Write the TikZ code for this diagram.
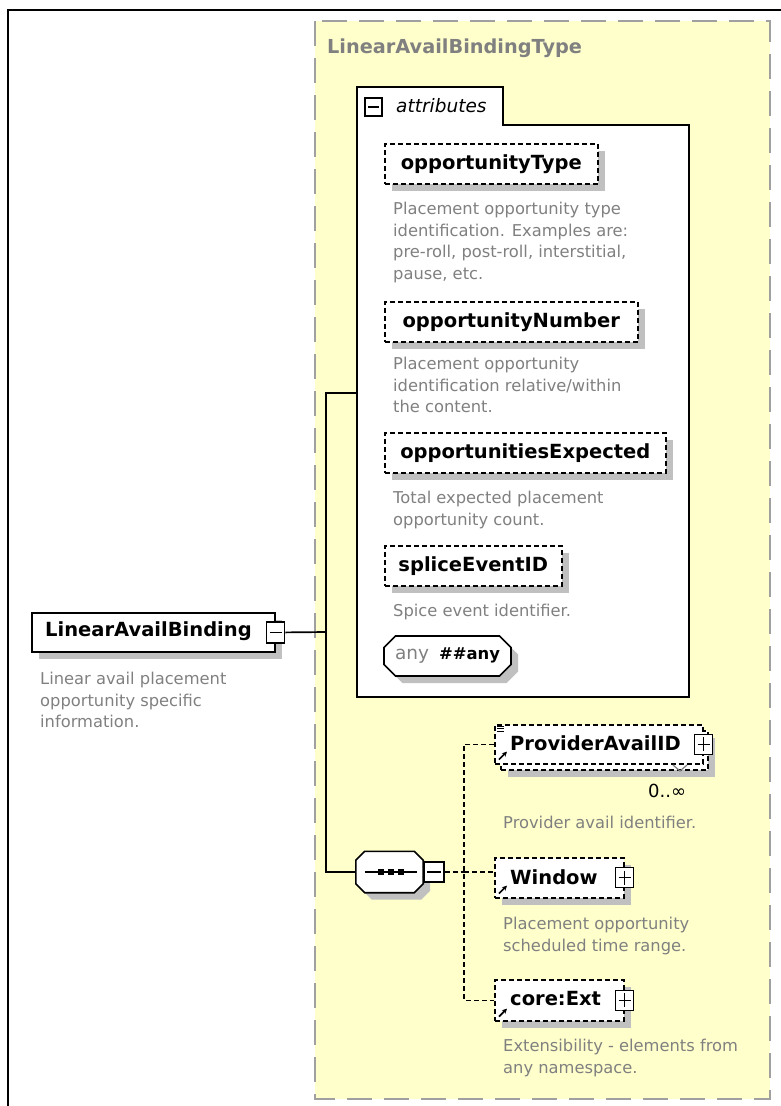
\documentclass[tikz,border=0pt]{standalone}
\usepackage{fontspec}
\setmainfont{DejaVu Sans}
\usepackage{tikz}
\usetikzlibrary{shapes.misc,shadows,arrows.meta}

\definecolor{fondo}{RGB}{255,255,204}
\definecolor{borde}{RGB}{160,160,160}
\definecolor{sombra}{RGB}{192,192,192}
\definecolor{gris}{RGB}{128,128,128}

\newcommand{\nombre}{\fontsize{19.5}{23}\selectfont\bfseries}
\newcommand{\nota}{\fontsize{16.3}{21.5}\selectfont}

\tikzset{
  sombreado/.style={general shadow={fill=sombra, shadow xshift=7pt, shadow yshift=-7pt}},
  elemsin/.style={draw, fill=white, line width=1.6pt, dash pattern=on 5pt off 3pt,
    minimum height=40pt, inner sep=0pt},
  elem/.style={elemsin, sombreado},
  octo/.style={chamfered rectangle, chamfered rectangle xsep=8pt, draw, fill=white,
    line width=1.6pt, inner sep=0pt, sombreado},
  desc/.style={anchor=north west, align=left, inner sep=0pt, text=gris, font=\nota},
  signo/.style={draw, fill=white, line width=1.3pt, minimum width=18pt, minimum height=20pt, inner sep=0pt},
  menos/.style={signo, path picture={
    \draw[line width=1.3pt] ([xshift=3pt]path picture bounding box.west) -- ([xshift=-3pt]path picture bounding box.east);}},
  mas/.style={signo, path picture={
    \draw[line width=1.3pt] ([xshift=3pt]path picture bounding box.west) -- ([xshift=-3pt]path picture bounding box.east);
    \draw[line width=1.3pt] ([yshift=-3pt]path picture bounding box.north) -- ([yshift=3pt]path picture bounding box.south);}},
  liga/.style={line width=1.7pt},
  ligap/.style={line width=1.6pt, dash pattern=on 5pt off 3pt},
}

\begin{document}
\begin{tikzpicture}[x=1pt,y=-1pt]
\useasboundingbox (0,0) rectangle (781,1106);

% Marco exterior
\draw[line width=2pt] (8,1106) -- (8,10) -- (781,10);

% Tipo complejo
\draw[borde, fill=fondo, line width=2.5pt, dash pattern=on 25pt off 12pt] (315,21) rectangle (770,1099);
\node[anchor=west, inner sep=0pt, text=gris, font=\fontsize{19.3}{23}\selectfont\bfseries] (tipo) at (327,48) {LinearAvailBindingType};

% Grupo de atributos
\draw[fill=white, line width=1.8pt] (357,697) -- (357,87) -- (503,87) -- (503,125) -- (689,125) -- (689,697) -- cycle;
\node[menos, minimum width=17pt, minimum height=18pt] (attrpm) at (373.5,107) {};
\node[anchor=west, inner sep=0pt, font=\fontsize{18.5}{22}\selectfont\itshape] (attr) at (396,106) {attributes};
\coordinate (attrin) at (357,393);

\node[elem, minimum width=213pt, anchor=north west, font=\nombre] (otype) at (384,143) {opportunityType};
\node[desc] (otypedesc) at (393,202) {Placement opportunity type\\identification. Examples are:\\pre-roll, post-roll, interstitial,\\pause, etc.};

\node[elem, minimum width=253pt, anchor=north west, font=\nombre] (onum) at (384,301) {opportunityNumber};
\node[desc] (onumdesc) at (393,357) {Placement opportunity\\identification relative/within\\the content.};

\node[elem, minimum width=281pt, anchor=north west, font=\nombre] (oexp) at (384,432) {opportunitiesExpected};
\node[desc] (oexpdesc) at (393,491) {Total expected placement\\opportunity count.};

\node[elem, minimum width=177pt, anchor=north west, font=\nombre] (splice) at (384,545) {spliceEventID};
\node[desc] (splicedesc) at (393,604) {Spice event identifier.};

\node[octo, minimum width=127pt, minimum height=40pt] (cualq) at (447.5,656)
  {\textcolor{gris}{\fontsize{18.5}{22}\selectfont any}\hspace{10pt}{\fontsize{16.4}{20}\selectfont\bfseries\#\#any}};

% Elemento global
\node[draw, fill=white, line width=1.8pt, minimum width=243pt, minimum height=39pt,
  anchor=north west, inner sep=0pt, sombreado] (lab) at (31,612) {};
\node[anchor=west, inner sep=0pt, font=\nombre] (labtxt) at (45,631) {LinearAvailBinding};
\node[menos, minimum height=21pt] (labpm) at (lab.east) {};
\node[desc] (labdesc) at (40,672) {Linear avail placement\\opportunity specific\\information.};

% Secuencia
\node[minimum width=67pt, minimum height=41pt, inner sep=0pt] (seq) at (389.5,872) {};
\draw[fill=white, line width=1.6pt, sombreado]
  ([xshift=9pt]seq.north west) -- ([xshift=-9pt]seq.north east) -- ([yshift=-9pt]seq.north east)
  -- ([yshift=9pt]seq.south east) -- ([xshift=-9pt]seq.south east) -- ([xshift=9pt]seq.south west)
  -- ([yshift=9pt]seq.south west) -- ([yshift=-9pt]seq.north west) -- cycle;
\draw[line width=1.6pt] ([xshift=9pt]seq.west) -- ([xshift=-6pt]seq.east);
\foreach \x in {381,391,401}
  \fill (\x-3,869) rectangle (\x+3,875);
\node[menos, minimum width=20pt, anchor=west] (seqpm) at (seq.east) {};

% Conexiones
\coordinate (tronco) at (326,632);
\draw[liga] (labpm.east) -- (tronco);
\draw[liga] (attrin) -| (tronco) |- (seq.west);

% Elementos hijos
\node[elem, minimum width=207pt, minimum height=39pt, anchor=north west] (pidfondo) at (500,730) {};
\node[elemsin, minimum width=208pt, minimum height=39pt, anchor=north west] (pid) at (494,724) {};
\node[anchor=west, inner sep=0pt, font=\nombre] (pidtxt) at (510,743) {ProviderAvailID};
\node[mas] (pidpm) at (pid.east) {};
\node[anchor=west, inner sep=0pt, font=\fontsize{18}{22}\selectfont] (pidocc) at (648,791) {0..∞};
\draw[gris, line width=1.2pt] (673,765) -- (680,771) -- (687,765);
\foreach \y in {726,728.5,731}
  \draw[line width=0.9pt] (497,\y) -- (504,\y);
\node[desc] (piddesc) at (503,816) {Provider avail identifier.};

\node[elem, minimum width=129pt, anchor=north west] (win) at (494,857) {};
\node[anchor=west, inner sep=0pt, font=\nombre] (wintxt) at (510,877) {Window};
\node[mas] (winpm) at (win.east) {};
\node[desc] (windesc) at (503,917) {Placement opportunity\\scheduled time range.};

\node[elem, minimum width=129pt, minimum height=41pt, anchor=north west] (ext) at (494,979) {};
\node[anchor=west, inner sep=0pt, font=\nombre] (exttxt) at (510,999) {core:Ext};
\node[mas] (extpm) at (ext.east) {};
\node[desc] (extdesc) at (503,1039) {Extensibility - elements from\\any namespace.};

\foreach \n in {pid,win,ext}
  \draw[-{Stealth[length=5pt,width=5pt]}, line width=1.6pt] ([xshift=5pt,yshift=5pt]\n.south west) -- ++(8,-8);

% Conexiones de la secuencia
\coordinate (bus) at (464,872);
\draw[ligap] (seqpm.east) -- (bus);
\draw[ligap] (pid.west) -- (pid.west -| bus) -- (bus |- ext.west) -- (ext.west);
\draw[ligap] (bus) -- (bus -| win.west);

\end{tikzpicture}
\end{document}
